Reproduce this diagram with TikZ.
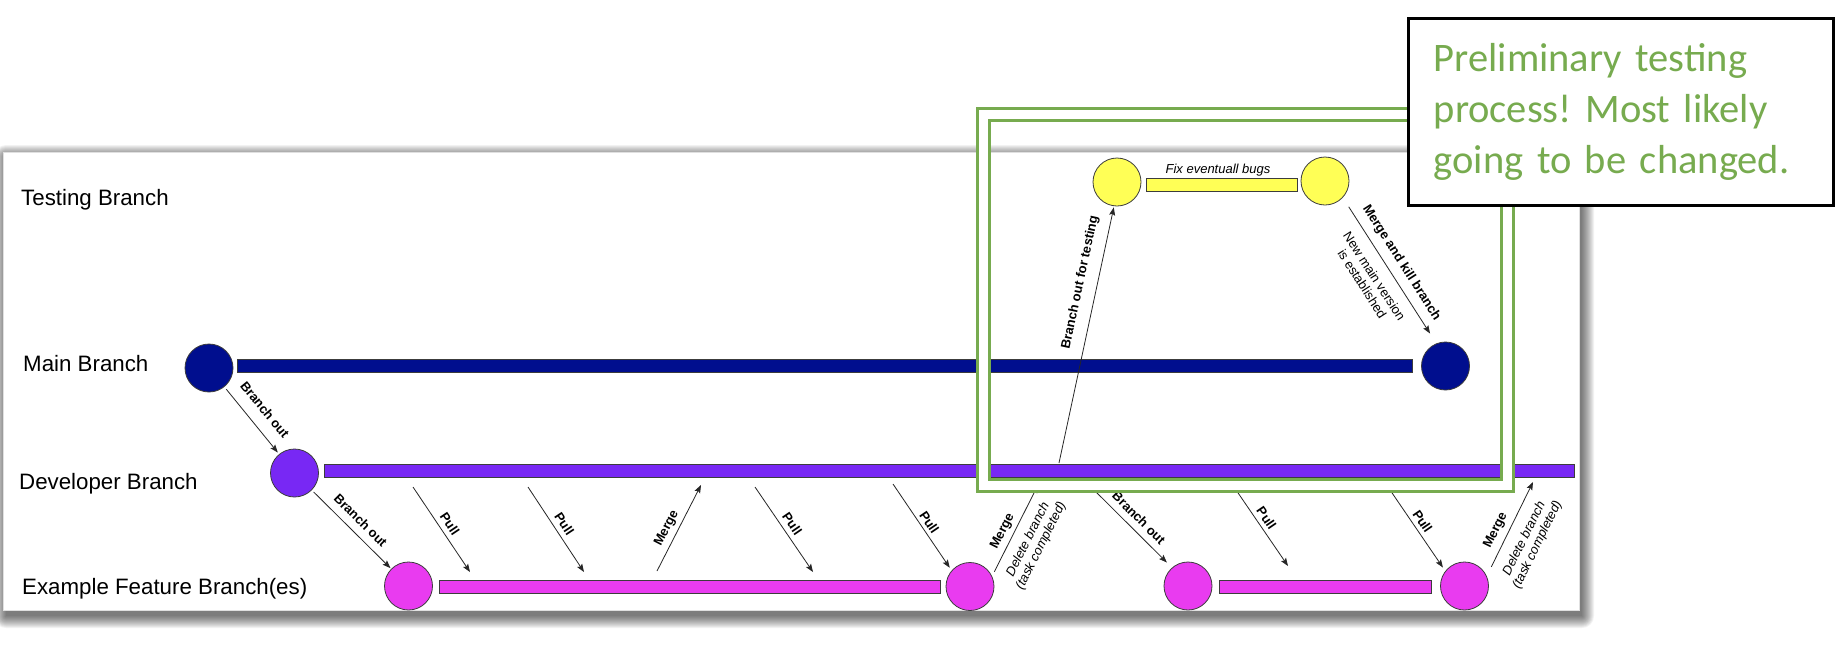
\documentclass[tikz,border=0pt]{standalone}
\usepackage{fontspec}
\setmainfont{Liberation Sans}
\newfontfamily\calloutfont{Carlito}
\usetikzlibrary{arrows.meta}
\frenchspacing

\definecolor{mainblue}{RGB}{0,14,142}
\definecolor{devpurple}{RGB}{120,40,244}
\definecolor{featpink}{RGB}{233,59,240}
\definecolor{testyellow}{RGB}{255,255,86}
\definecolor{notegreen}{RGB}{119,171,79}
\definecolor{edgegray}{RGB}{60,60,60}

\begin{document}
\begin{tikzpicture}[x=1pt,y=-1pt,
  commit/.style={circle, draw=edgegray, line width=0.8pt, minimum size=48pt, inner sep=0pt},
  bar/.style={rectangle, draw=edgegray, line width=0.8pt, minimum height=13pt, inner sep=0pt},
  arr/.style={draw=black!85, line width=0.8pt, -{Stealth[length=8pt,width=6pt,inset=1.5pt]}},
  lbl/.style={font=\fontsize{13}{14.5}\selectfont\bfseries, sloped, inner sep=0pt},
  note/.style={font=\fontsize{13}{14.5}\selectfont\itshape, sloped, align=center, inner sep=0pt},
  plain/.style={font=\fontsize{13}{14.5}\selectfont, sloped, align=center, inner sep=0pt},
  lane/.style={font=\fontsize{22.3}{26}\selectfont, anchor=base west, inner sep=0pt},
]
\path[use as bounding box] (0,0) rectangle (1836,646);
\fill[white] (0,0) rectangle (1836,646);

% soft drop shadow under the diagram panel
\foreach \i in {0,...,12}{
  \fill[black, opacity=0.05, rounded corners=\i pt]
    (6-\i,157-\i) rectangle (1582+\i,616+\i);
}
\filldraw[fill=white, draw=black!12, line width=0.6pt] (3,152) rectangle (1579,610);

% lane titles
\node[lane] (lt) at (21,205) {Testing Branch};
\node[lane] (lm) at (23,371) {Main Branch};
\node[lane] (ld) at (19,489) {Developer Branch};
\node[lane] (lf) at (22,594) {Example Feature Branch(es)};

% branch bars
\node[bar, fill=mainblue,   minimum width=1175pt] (mainbar) at (824.5,366)  {};
\node[bar, fill=devpurple,  minimum width=1250pt] (devbar)  at (949,470.5)  {};
\node[bar, fill=featpink,   minimum width=501pt]  (fbar1)   at (689.5,586.5) {};
\node[bar, fill=featpink,   minimum width=212pt]  (fbar2)   at (1325,586.5) {};
\node[bar, fill=testyellow, minimum width=151pt]  (ybar)    at (1221.5,184.5) {};

% commits
\node[commit, fill=mainblue]   (m1) at (209,368)    {};
\node[commit, fill=mainblue]   (m2) at (1445.5,366) {};
\node[commit, fill=devpurple]  (d1) at (294.5,473)  {};
\node[commit, fill=featpink]   (f1) at (408.5,586)  {};
\node[commit, fill=featpink]   (f2) at (970,586.5)  {};
\node[commit, fill=featpink]   (f3) at (1188,586)   {};
\node[commit, fill=featpink]   (f4) at (1464.5,586) {};
\node[commit, fill=testyellow] (y1) at (1117,182)   {};
\node[commit, fill=testyellow] (y2) at (1325,181)   {};

\node[font=\fontsize{13}{14.5}\selectfont\itshape, anchor=base, inner sep=0pt] (fixtext) at (1218,173) {Fix eventuall bugs};

% free ends of the connectors between bars
\coordinate (p1s) at (413,487);  \coordinate (p1e) at (470,572);
\coordinate (p2s) at (528,487);  \coordinate (p2e) at (584,572);
\coordinate (g1s) at (657,571);  \coordinate (g1e) at (701,485);
\coordinate (p3s) at (755,487);  \coordinate (p3e) at (813,572);
\coordinate (p4s) at (893,484);
\coordinate (g2e) at (1038,485);
\coordinate (bo3s) at (1089,485);
\coordinate (p5s) at (1234,487); \coordinate (p5e) at (1288,566);
\coordinate (p6s) at (1388,487);
\coordinate (g3e) at (1533,482);
\coordinate (bts) at (1059,463);

% connectors
\draw[arr, shorten <=3pt, shorten >=2pt] (m1) -- node[lbl, yshift=17pt] {Branch out} (d1);
\draw[arr, shorten <=2.5pt, shorten >=1pt] (d1) -- node[lbl, yshift=13pt] {Branch out} (f1);
\draw[arr] (p1s) -- node[lbl, yshift=10pt] {Pull} (p1e);
\draw[arr] (p2s) -- node[lbl, yshift=10pt] {Pull} (p2e);
\draw[arr] (g1s) -- node[lbl, pos=.44, yshift=10.7pt] {Merge} (g1e);
\draw[arr] (p3s) -- node[lbl, yshift=10pt] {Pull} (p3e);
\draw[arr, shorten >=3.3pt] (p4s) -- node[lbl, yshift=8.5pt] {Pull} (f2.139);
\draw[arr, shorten <=5pt] (f2.25) --
  node[lbl, pos=.44, yshift=10.7pt] {Merge}
  node[note, pos=.48, yshift=-23pt] {Delete branch\\(task completed)} (g2e);
\draw[arr, shorten >=7.2pt] (bo3s) -- node[lbl, yshift=12pt] {Branch out} (f3.131.6);
\draw[arr] (p5s) -- node[lbl, pos=.46, yshift=9.3pt] {Pull} (p5e);
\draw[arr, shorten >=4.2pt] (p6s) -- node[lbl, pos=.47, yshift=9.3pt] {Pull} (f4.142.8);
\draw[arr, shorten <=10.3pt] (f4.24) --
  node[lbl, pos=.43, yshift=12pt] {Merge}
  node[note, pos=.48, yshift=-24.5pt] {Delete branch\\(task completed)} (g3e);
\draw[arr, shorten >=1.2pt] (bts) -- node[lbl, pos=.69, yshift=17pt] {Branch out for testing} (y1.263.4);
\draw[arr, shorten <=10.9pt, shorten >=11.7pt] (y2.-43.6) --
  node[lbl, yshift=14pt] {Merge and kill branch}
  node[plain, pos=.48, yshift=-23pt] {New main version\\is established} (m2.112.3);

% highlighted testing area
\draw[notegreen, line width=3pt, double=white, double distance=9pt] (983.5,114) rectangle (1507,485);

% callout
\node[draw=black, line width=2.5pt, fill=white, anchor=north west,
      minimum width=425pt, minimum height=187pt, text width=374pt,
      inner xsep=25pt, align=left, text=notegreen,
      font=\calloutfont\fontsize{40.5}{51}\selectfont] (note) at (1407,17)
  {Preliminary testing\\process! Most likely\\going to be changed.};
\end{tikzpicture}
\end{document}
